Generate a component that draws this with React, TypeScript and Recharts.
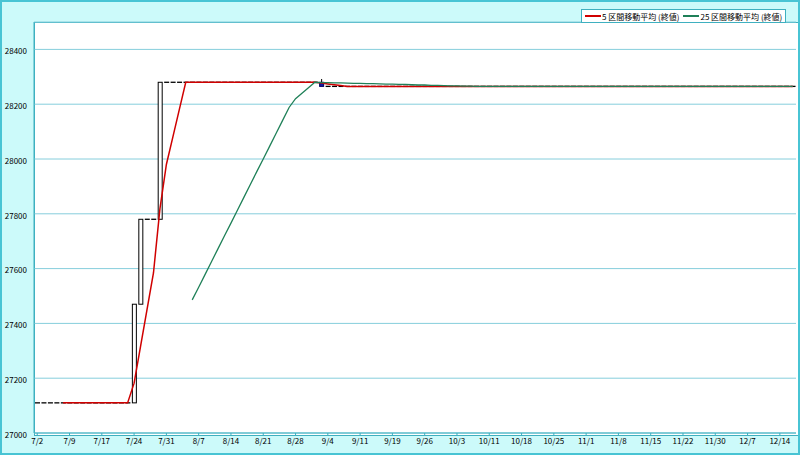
import { ComposedChart, Bar, Line, XAxis, YAxis, CartesianGrid } from 'recharts';

// Trading days, 2012 (Japanese market calendar)
const dates = [
    '7/2', '7/3', '7/4', '7/5', '7/6', '7/9', '7/10', '7/11', '7/12', '7/13',
    '7/17', '7/18', '7/19', '7/20', '7/23', '7/24', '7/25', '7/26', '7/27', '7/30',
    '7/31', '8/1', '8/2', '8/3', '8/6', '8/7', '8/8', '8/9', '8/10', '8/13',
    '8/14', '8/15', '8/16', '8/17', '8/20', '8/21', '8/22', '8/23', '8/24', '8/27',
    '8/28', '8/29', '8/30', '8/31', '9/3', '9/4', '9/5', '9/6', '9/7', '9/10',
    '9/11', '9/12', '9/13', '9/14', '9/18', '9/19', '9/20', '9/21', '9/24', '9/25',
    '9/26', '9/27', '9/28', '10/1', '10/2', '10/3', '10/4', '10/5', '10/9', '10/10',
    '10/11', '10/12', '10/15', '10/16', '10/17', '10/18', '10/19', '10/22', '10/23', '10/24',
    '10/25', '10/26', '10/29', '10/30', '10/31', '11/1', '11/2', '11/5', '11/6', '11/7',
    '11/8', '11/9', '11/12', '11/13', '11/14', '11/15', '11/16', '11/19', '11/20', '11/21',
    '11/22', '11/26', '11/27', '11/28', '11/29', '11/30', '12/3', '12/4', '12/5', '12/6',
    '12/7', '12/10', '12/11', '12/12', '12/13', '12/14', '12/17', '12/18',
];

const opens = [
    27110, 27110, 27110, 27110, 27110, 27110, 27110, 27110, 27110, 27110,
    27110, 27110, 27110, 27110, 27110, 27110, 27470, 27780, 27780, 27780,
    28280, 28280, 28280, 28280, 28280, 28280, 28280, 28280, 28280, 28280,
    28280, 28280, 28280, 28280, 28280, 28280, 28280, 28280, 28280, 28280,
    28280, 28280, 28280, 28280, 28280, 28265, 28265, 28265, 28265, 28265,
    28265, 28265, 28265, 28265, 28265, 28265, 28265, 28265, 28265, 28265,
    28265, 28265, 28265, 28265, 28265, 28265, 28265, 28265, 28265, 28265,
    28265, 28265, 28265, 28265, 28265, 28265, 28265, 28265, 28265, 28265,
    28265, 28265, 28265, 28265, 28265, 28265, 28265, 28265, 28265, 28265,
    28265, 28265, 28265, 28265, 28265, 28265, 28265, 28265, 28265, 28265,
    28265, 28265, 28265, 28265, 28265, 28265, 28265, 28265, 28265, 28265,
    28265, 28265, 28265, 28265, 28265, 28265, 28265, 28265,
];

const closes = [
    27110, 27110, 27110, 27110, 27110, 27110, 27110, 27110, 27110, 27110,
    27110, 27110, 27110, 27110, 27110, 27470, 27780, 27780, 27780, 28280,
    28280, 28280, 28280, 28280, 28280, 28280, 28280, 28280, 28280, 28280,
    28280, 28280, 28280, 28280, 28280, 28280, 28280, 28280, 28280, 28280,
    28280, 28280, 28280, 28280, 28265, 28265, 28265, 28265, 28265, 28265,
    28265, 28265, 28265, 28265, 28265, 28265, 28265, 28265, 28265, 28265,
    28265, 28265, 28265, 28265, 28265, 28265, 28265, 28265, 28265, 28265,
    28265, 28265, 28265, 28265, 28265, 28265, 28265, 28265, 28265, 28265,
    28265, 28265, 28265, 28265, 28265, 28265, 28265, 28265, 28265, 28265,
    28265, 28265, 28265, 28265, 28265, 28265, 28265, 28265, 28265, 28265,
    28265, 28265, 28265, 28265, 28265, 28265, 28265, 28265, 28265, 28265,
    28265, 28265, 28265, 28265, 28265, 28265, 28265, 28265,
];

// only one candle shows a wick above its body
const wickHighs: Record<string, number> = { '9/3': 28292 };

const ma5 = [
    null, null, null, null, 27110, 27110, 27110, 27110, 27110, 27110,
    27110, 27110, 27110, 27110, 27110, 27182, 27316, 27450, 27584, 27818,
    27980, 28080, 28180, 28280, 28280, 28280, 28280, 28280, 28280, 28280,
    28280, 28280, 28280, 28280, 28280, 28280, 28280, 28280, 28280, 28280,
    28280, 28280, 28280, 28280, 28277, 28274, 28271, 28268, 28265, 28265,
    28265, 28265, 28265, 28265, 28265, 28265, 28265, 28265, 28265, 28265,
    28265, 28265, 28265, 28265, 28265, 28265, 28265, 28265, 28265, 28265,
    28265, 28265, 28265, 28265, 28265, 28265, 28265, 28265, 28265, 28265,
    28265, 28265, 28265, 28265, 28265, 28265, 28265, 28265, 28265, 28265,
    28265, 28265, 28265, 28265, 28265, 28265, 28265, 28265, 28265, 28265,
    28265, 28265, 28265, 28265, 28265, 28265, 28265, 28265, 28265, 28265,
    28265, 28265, 28265, 28265, 28265, 28265, 28265, 28265,
];

const ma25 = [
    null, null, null, null, null, null, null, null, null, null,
    null, null, null, null, null, null, null, null, null, null,
    null, null, null, null, 27486, 27532, 27579, 27626, 27673, 27720,
    27766, 27813, 27860, 27907, 27954, 28000, 28047, 28094, 28141, 28188,
    28220, 28240, 28260, 28280, 28279, 28279, 28278, 28278, 28277, 28276,
    28276, 28275, 28275, 28274, 28273, 28273, 28272, 28272, 28271, 28270,
    28270, 28269, 28269, 28268, 28267, 28267, 28266, 28266, 28265, 28265,
    28265, 28265, 28265, 28265, 28265, 28265, 28265, 28265, 28265, 28265,
    28265, 28265, 28265, 28265, 28265, 28265, 28265, 28265, 28265, 28265,
    28265, 28265, 28265, 28265, 28265, 28265, 28265, 28265, 28265, 28265,
    28265, 28265, 28265, 28265, 28265, 28265, 28265, 28265, 28265, 28265,
    28265, 28265, 28265, 28265, 28265, 28265, 28265, 28265,
];

const yTicks = [27000, 27200, 27400, 27600, 27800, 28000, 28200, 28400, 28500];

const chartData = dates.map((date, i) => ({
    date,
    open: opens[i],
    close: closes[i],
    high: wickHighs[date] ?? Math.max(opens[i], closes[i]),
    ma5: ma5[i],
    ma25: ma25[i],
}));

const FONT = '"MS PGothic", "Noto Sans CJK JP", sans-serif';
const TEAL = '#3fb0c0';

// Candle: flat days are a short black dash, others a body (white up, blue down)
function Candle(props: any) {
    const { x, y, width, height, payload } = props;
    const { open, close, high } = payload;
    if (open === close || !height) {
        return <line x1={x} x2={x + width} y1={y} y2={y} stroke="#000" strokeWidth={1.3} />;
    }
    const top = Math.max(open, close);
    const bottom = Math.min(open, close);
    const pxPerUnit = height / (top - bottom);
    const wickY = y - (high - top) * pxPerUnit;
    const falling = close < open;
    return (
        <g>
            {high > top && (
                <line x1={x + width / 2} x2={x + width / 2} y1={wickY} y2={y} stroke="#000" strokeWidth={1} />
            )}
            <rect x={x + 0.5} y={y} width={width - 1} height={height}
                fill={falling ? '#1818a8' : '#fff'} stroke={falling ? '#000060' : '#000'} strokeWidth={1} />
        </g>
    );
}

function LegendBox() {
    const item = (color: string, label: string) => (
        <span style={{ display: 'inline-flex', alignItems: 'center', marginRight: 4 }}>
            <span style={{ display: 'inline-block', width: 16, height: 0, borderTop: `2px solid ${color}`, marginRight: 1 }} />
            <span>{label}</span>
        </span>
    );
    return (
        <div style={{
            position: 'absolute', left: 579, top: 7, width: 205, height: 14, boxSizing: 'border-box',
            border: `1px solid ${TEAL}`, background: '#fff', fontFamily: FONT, fontSize: 8,
            display: 'flex', alignItems: 'center', paddingLeft: 3, whiteSpace: 'nowrap', color: '#000',
        }}>
            {item('#d00000', '5 区間移動平均 (終値)')}
            {item('#1f8058', '25 区間移動平均 (終値)')}
        </div>
    );
}

export default function App() {
    return (
        <div style={{
            position: 'absolute', left: 0, top: 0, width: 800, height: 455, boxSizing: 'border-box',
            border: '2px solid #48c4d4', background: '#ccfafa', overflow: 'hidden',
        }}>
            {/* plot frame behind the transparent svg */}
            <div style={{
                position: 'absolute', left: 32, top: 20, width: 763, height: 412,
                background: '#fff', border: `1px solid ${TEAL}`,
            }} />
            <div style={{ position: 'absolute', left: -2, top: -2 }}>
                <ComposedChart width={800} height={455} data={chartData}
                    margin={{ top: 22, right: 4, bottom: 0, left: 0 }} barSize={5}>
                    <CartesianGrid vertical={false} stroke="#86cedc" />
                    <XAxis
                        dataKey="date"
                        interval={4}
                        height={22}
                        tick={{ fontSize: 8, fill: '#000', fontFamily: FONT }}
                        tickSize={3}
                        tickLine={{ stroke: TEAL }}
                        axisLine={{ stroke: TEAL }}
                    />
                    <YAxis
                        domain={[27000, 28500]}
                        ticks={yTicks}
                        width={34}
                        tickFormatter={(v) => (v === 28500 ? '' : String(v))}
                        tick={{ fontSize: 8, fill: '#000', fontFamily: FONT, dy: 2 }}
                        tickSize={0}
                        tickMargin={7}
                        tickLine={false}
                        axisLine={{ stroke: TEAL }}
                    />
                    <Bar
                        dataKey={(d: any) => [Math.min(d.open, d.close), Math.max(d.open, d.close)]}
                        shape={<Candle />}
                        isAnimationActive={false}
                    />
                    <Line dataKey="ma5" stroke="#d00000" strokeWidth={1.5} dot={false}
                        activeDot={false} isAnimationActive={false} />
                    <Line dataKey="ma25" stroke="#1f8058" strokeWidth={1.3} dot={false}
                        activeDot={false} isAnimationActive={false} />
                </ComposedChart>
            </div>
            <LegendBox />
        </div>
    );
}
